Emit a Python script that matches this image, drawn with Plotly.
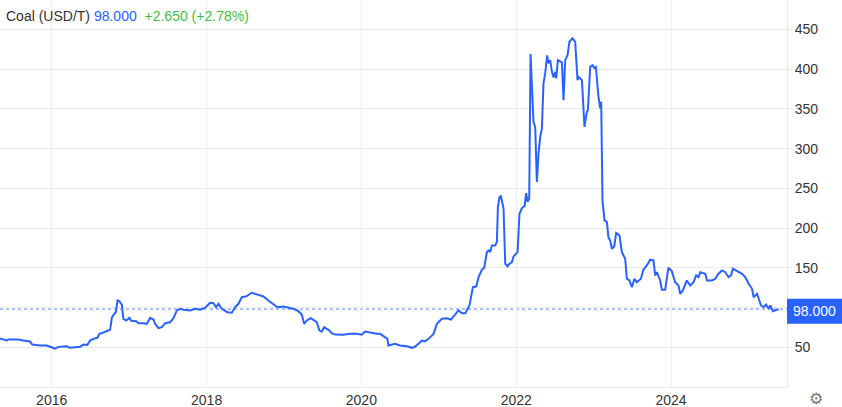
import numpy as np
import pandas as pd
import plotly.graph_objects as go

# ---- data (decimal years, USD/T) ----
dates_decimal = [
    2015.332, 2015.354, 2015.419, 2015.439, 2015.568, 2015.633, 2015.720, 2015.749, 2015.849, 2015.935,
    2016.043, 2016.085, 2016.194, 2016.236, 2016.366, 2016.408, 2016.460, 2016.495, 2016.537, 2016.589,
    2016.615, 2016.667, 2016.731, 2016.753, 2016.775, 2016.796, 2016.827, 2016.848, 2016.870, 2016.904,
    2016.925, 2016.960, 2017.003, 2017.025, 2017.089, 2017.119, 2017.183, 2017.205, 2017.227, 2017.270,
    2017.313, 2017.335, 2017.377, 2017.421, 2017.464, 2017.528, 2017.571, 2017.615, 2017.658, 2017.700,
    2017.787, 2017.851, 2017.916, 2017.981, 2018.045, 2018.088, 2018.123, 2018.152, 2018.196, 2018.269,
    2018.326, 2018.368, 2018.411, 2018.455, 2018.519, 2018.584, 2018.649, 2018.734, 2018.798, 2018.863,
    2018.915, 2018.992, 2019.036, 2019.121, 2019.186, 2019.230, 2019.260, 2019.295, 2019.346, 2019.380,
    2019.424, 2019.457, 2019.488, 2019.518, 2019.574, 2019.618, 2019.660, 2019.767, 2019.854, 2019.941,
    2020.005, 2020.048, 2020.112, 2020.199, 2020.242, 2020.306, 2020.336, 2020.349, 2020.435, 2020.500,
    2020.587, 2020.651, 2020.694, 2020.758, 2020.780, 2020.823, 2020.866, 2020.930, 2020.974, 2021.039,
    2021.103, 2021.155, 2021.211, 2021.253, 2021.297, 2021.340, 2021.395, 2021.413, 2021.439, 2021.482,
    2021.512, 2021.556, 2021.585, 2021.620, 2021.641, 2021.663, 2021.685, 2021.727, 2021.749, 2021.762,
    2021.783, 2021.801, 2021.835, 2021.857, 2021.886, 2021.912, 2021.943, 2021.964, 2021.999, 2022.016,
    2022.041, 2022.072, 2022.106, 2022.128, 2022.145, 2022.167, 2022.184, 2022.202, 2022.222, 2022.244,
    2022.266, 2022.287, 2022.309, 2022.331, 2022.351, 2022.373, 2022.399, 2022.416, 2022.438, 2022.460,
    2022.481, 2022.503, 2022.516, 2022.537, 2022.589, 2022.610, 2022.632, 2022.662, 2022.687, 2022.726,
    2022.761, 2022.791, 2022.804, 2022.848, 2022.881, 2022.912, 2022.925, 2022.955, 2022.984, 2023.006,
    2023.028, 2023.062, 2023.084, 2023.097, 2023.114, 2023.140, 2023.171, 2023.191, 2023.213, 2023.235,
    2023.265, 2023.291, 2023.333, 2023.364, 2023.407, 2023.429, 2023.463, 2023.494, 2023.527, 2023.558,
    2023.610, 2023.643, 2023.687, 2023.730, 2023.773, 2023.795, 2023.817, 2023.859, 2023.881, 2023.924,
    2023.966, 2024.010, 2024.053, 2024.096, 2024.118, 2024.152, 2024.204, 2024.247, 2024.289, 2024.324,
    2024.354, 2024.376, 2024.441, 2024.463, 2024.527, 2024.570, 2024.612, 2024.656, 2024.699, 2024.742,
    2024.773, 2024.798, 2024.850, 2024.915, 2024.957, 2025.000, 2025.044, 2025.065, 2025.109, 2025.129,
    2025.160, 2025.194, 2025.225, 2025.258, 2025.280, 2025.315, 2025.345, 2025.388,
]
prices = [
    61.0, 60.6, 58.5, 59.7, 59.7, 58.5, 57.2, 53.4, 52.2, 52.2,
    48.4, 50.5, 51.3, 49.3, 50.5, 53.4, 53.0, 58.5, 60.6, 61.9,
    66.9, 68.6, 71.0, 72.0, 87.0, 90.9, 94.0, 108.9, 108.0, 103.5,
    85.8, 83.7, 87.0, 83.3, 82.8, 80.3, 80.3, 79.5, 79.5, 87.0,
    84.9, 79.5, 74.0, 75.2, 80.3, 81.5, 86.6, 96.3, 98.4, 97.2,
    96.3, 98.4, 97.2, 99.7, 106.0, 105.5, 100.4, 104.7, 98.4, 94.1,
    93.4, 100.4, 104.7, 113.0, 114.3, 118.6, 116.4, 113.9, 108.9, 104.7,
    100.4, 101.3, 100.4, 98.4, 95.4, 91.2, 79.5, 83.7, 86.6, 84.6,
    81.5, 71.0, 69.8, 75.2, 72.0, 67.7, 66.0, 65.7, 66.9, 66.9,
    65.7, 69.8, 68.2, 66.9, 66.9, 62.6, 60.6, 52.2, 54.3, 52.2,
    51.3, 49.3, 50.9, 56.3, 58.5, 57.6, 60.6, 66.9, 79.5, 85.8,
    86.6, 84.9, 92.1, 96.3, 92.9, 92.9, 102.6, 111.0, 125.6, 126.5,
    138.2, 147.6, 150.1, 169.8, 171.9, 169.8, 178.2, 178.2, 182.4, 226.5,
    239.1, 240.0, 224.5, 155.1, 151.7, 155.1, 157.2, 164.3, 168.5, 169.8,
    218.0, 225.0, 227.7, 244.0, 233.0, 237.0, 418.9, 373.5, 333.6, 327.3,
    258.0, 293.8, 314.7, 325.3, 382.0, 394.6, 417.3, 407.2, 411.3, 396.6,
    389.5, 396.6, 388.3, 411.3, 408.4, 360.9, 411.3, 417.6, 434.4, 438.7,
    434.4, 386.1, 390.3, 386.1, 327.3, 346.2, 348.3, 402.9, 405.0, 401.6,
    402.9, 365.1, 350.5, 358.8, 234.9, 209.7, 207.6, 188.0, 184.5, 174.0,
    176.9, 193.7, 190.8, 169.8, 161.4, 136.2, 134.1, 125.6, 136.2, 131.9,
    136.2, 147.6, 153.0, 160.2, 159.3, 140.4, 144.5, 134.1, 122.4, 122.4,
    150.1, 145.8, 131.9, 127.8, 117.3, 121.5, 134.1, 127.8, 131.9, 140.4,
    138.2, 144.5, 142.5, 134.1, 134.1, 136.2, 142.5, 146.7, 144.5, 138.2,
    140.4, 148.8, 145.8, 142.5, 138.2, 129.9, 123.6, 113.0, 117.3, 111.0,
    102.6, 100.4, 103.8, 98.4, 102.6, 95.4, 96.3, 98.0,
]
y_ticks = [50, 100, 150, 200, 250, 300, 350, 400, 450]
x_tick_years = [2016, 2018, 2020, 2022, 2024]
last_value = 98.0
change_text = "+2.650 (+2.78%)"
title_text = "Coal (USD/T)"
x_range_years = [2015.332, 2025.496]
y_range = [0, 487]


def dec_to_date(y):
    yr = int(np.floor(y))
    start = pd.Timestamp(yr, 1, 1)
    end = pd.Timestamp(yr + 1, 1, 1)
    return start + (end - start) * (y - yr)


dates = [dec_to_date(v) for v in dates_decimal]

BLUE = "#2962ff"
GREEN = "#3cbf3c"
GRID = "#e9e9e9"
FONT = "Liberation Sans, Arial, sans-serif"

# labels hidden where the last-value badge sits (as in the original)
y_ticktext = ["" if abs(v - last_value) < 20 else str(v) for v in y_ticks]

fig = go.Figure()
fig.add_trace(go.Scatter(
    x=dates, y=prices, mode="lines",
    line=dict(color=BLUE, width=2), hoverinfo="x+y", showlegend=False,
))

# dotted last-value line
fig.add_shape(type="line", xref="paper", x0=0, x1=1, yref="y", y0=last_value, y1=last_value,
              line=dict(color="#5b84ff", width=1, dash="dot"), layer="below")
# last-value badge
fig.add_shape(type="rect", xref="paper", x0=1.0, x1=1.0 + 55 / 787, yref="y",
              y0=last_value - 18.5, y1=last_value + 13, fillcolor=BLUE, line=dict(width=0))
fig.add_annotation(xref="paper", x=1.0 + 27.5 / 787, yref="y", y=last_value - 2.7,
                   text=f"{last_value:.3f}", showarrow=False,
                   font=dict(color="white", size=14, family=FONT), xanchor="center", yanchor="middle")

# header text
fig.add_annotation(xref="paper", yref="paper", x=0, y=1 - 16 / 387, xanchor="left", yanchor="middle",
                   xshift=4, showarrow=False,
                   text=(f"<span style='color:#333333'>{title_text}</span> "
                         f"<span style='color:{BLUE}'>{last_value:.3f}</span>  "
                         f"<span style='color:{GREEN}'>{change_text}</span>"),
                   font=dict(size=14, family=FONT))

# gear icon
fig.add_annotation(xref="paper", yref="paper", x=816 / 787, y=-11 / 387, xanchor="center",
                   yanchor="middle", showarrow=False, text="⚙",
                   font=dict(size=16, color="#777777", family="DejaVu Sans"))

fig.update_layout(
    width=842, height=407,
    margin=dict(l=0, r=55, t=0, b=20),
    paper_bgcolor="white", plot_bgcolor="white",
    font=dict(family=FONT, size=14, color="#333333"),
    xaxis=dict(
        range=[dec_to_date(x_range_years[0]), dec_to_date(x_range_years[1])],
        tickvals=[pd.Timestamp(y, 1, 1) for y in x_tick_years],
        ticktext=[str(y) for y in x_tick_years],
        showgrid=True, gridcolor="#edf0f3", gridwidth=1,
        showline=True, linecolor=GRID, linewidth=1,
        ticks="", zeroline=False,
        tickfont=dict(size=14, color="#333333"),
    ),
    yaxis=dict(
        range=y_range, side="right",
        tickvals=y_ticks, ticktext=y_ticktext,
        showgrid=True, gridcolor=GRID, gridwidth=1,
        showline=True, linecolor=GRID, linewidth=1,
        ticks="outside", ticklen=4, tickcolor=GRID,
        zeroline=False,
        tickfont=dict(size=14, color="#333333"),
    ),
)

fig.write_html("out.html", config={"displayModeBar": False},
               post_script="document.body.style.margin='0';document.body.style.overflow='hidden';")
